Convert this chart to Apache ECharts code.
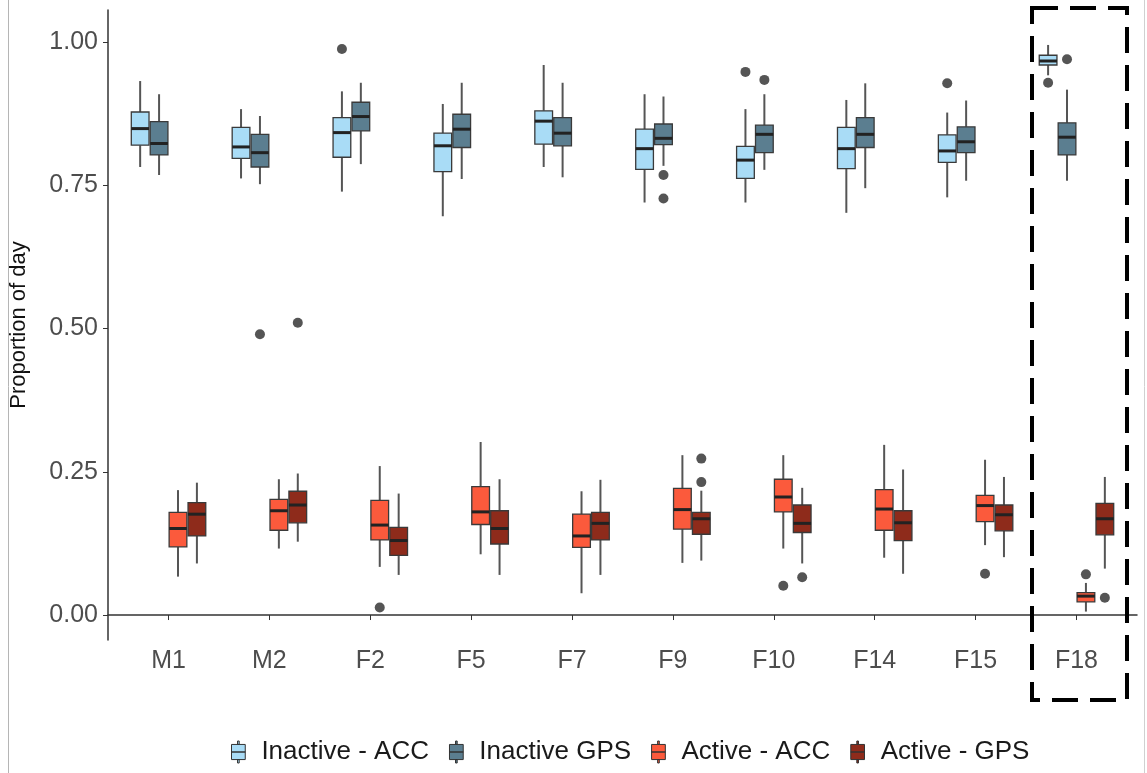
<!DOCTYPE html>
<html>
<head>
<meta charset="utf-8">
<script src="https://cdn.jsdelivr.net/npm/echarts@6/dist/echarts.min.js"></script>
<style>
  html, body { margin: 0; padding: 0; background: #fff; }
  #chart { width: 1147px; height: 773px; }
</style>
</head>
<body>
<div id="chart"></div>
<script>
var categories = ['M1', 'M2', 'F2', 'F5', 'F7', 'F9', 'F10', 'F14', 'F15', 'F18'];
var yTicks = [0, 0.25, 0.5, 0.75, 1];

// each row: [lower whisker, Q1, median, Q3, upper whisker]
var inactiveAcc = [
  [0.782, 0.820, 0.849, 0.878, 0.932],
  [0.762, 0.797, 0.817, 0.851, 0.883],
  [0.739, 0.799, 0.842, 0.868, 0.914],
  [0.696, 0.774, 0.819, 0.841, 0.892],
  [0.782, 0.822, 0.862, 0.880, 0.960],
  [0.720, 0.778, 0.814, 0.848, 0.909],
  [0.720, 0.762, 0.794, 0.818, 0.883],
  [0.702, 0.779, 0.814, 0.851, 0.899],
  [0.729, 0.790, 0.810, 0.838, 0.877],
  [0.942, 0.960, 0.967, 0.977, 0.995]
];
var inactiveGps = [
  [0.768, 0.803, 0.823, 0.861, 0.909],
  [0.752, 0.782, 0.807, 0.839, 0.871],
  [0.787, 0.845, 0.870, 0.895, 0.929],
  [0.761, 0.816, 0.848, 0.874, 0.929],
  [0.764, 0.819, 0.841, 0.868, 0.929],
  [0.784, 0.821, 0.832, 0.857, 0.905],
  [0.777, 0.807, 0.839, 0.855, 0.909],
  [0.745, 0.816, 0.839, 0.868, 0.928],
  [0.758, 0.807, 0.826, 0.852, 0.898],
  [0.758, 0.803, 0.834, 0.859, 0.917]
];
var activeAcc = [
  [0.067, 0.119, 0.151, 0.179, 0.218],
  [0.116, 0.148, 0.182, 0.202, 0.237],
  [0.084, 0.131, 0.157, 0.200, 0.260],
  [0.106, 0.158, 0.180, 0.224, 0.302],
  [0.038, 0.118, 0.138, 0.176, 0.216],
  [0.091, 0.150, 0.184, 0.221, 0.279],
  [0.116, 0.180, 0.206, 0.237, 0.279],
  [0.100, 0.148, 0.185, 0.219, 0.297],
  [0.122, 0.163, 0.191, 0.209, 0.271],
  [0.006, 0.023, 0.033, 0.039, 0.056]
];
var activeGps = [
  [0.090, 0.138, 0.176, 0.196, 0.231],
  [0.128, 0.161, 0.192, 0.216, 0.247],
  [0.070, 0.104, 0.130, 0.153, 0.212],
  [0.070, 0.124, 0.151, 0.182, 0.237],
  [0.070, 0.131, 0.160, 0.179, 0.236],
  [0.095, 0.141, 0.168, 0.179, 0.217],
  [0.090, 0.144, 0.160, 0.192, 0.222],
  [0.072, 0.130, 0.161, 0.182, 0.254],
  [0.101, 0.147, 0.175, 0.192, 0.241],
  [0.081, 0.140, 0.168, 0.195, 0.241]
];

// outliers: [category number (1-based), value]
var inactiveAccOut = [[3, 0.988], [7, 0.948], [9, 0.928], [10, 0.929]];
var inactiveGpsOut = [[2, 0.490], [6, 0.768], [6, 0.727], [7, 0.934], [10, 0.970]];
var activeAccOut = [[3, 0.013], [7, 0.051], [9, 0.072], [10, 0.071]];
var activeGpsOut = [[2, 0.510], [6, 0.273], [6, 0.232], [7, 0.066], [10, 0.030]];

var groupNames = ['Inactive - ACC', 'Inactive GPS', 'Active - ACC', 'Active - GPS'];
var groupColors = ['#a9dcf6', '#5b7e90', '#fb5a3c', '#8e2b1b'];
var groupRows = [inactiveAcc, inactiveGps, activeAcc, activeGps];
var groupOut = [inactiveAccOut, inactiveGpsOut, activeAccOut, activeGpsOut];

var dodge = 0.1875; // width of one dodged box in category units

// 箱线图（自定义绘制）
function boxSeries(idx) {
  var off = (idx - 1.5) * dodge;
  return {
    name: groupNames[idx],
    type: 'custom',
    itemStyle: { color: groupColors[idx] },
    encode: { x: 0, y: [1, 2, 3, 4, 5] },
    data: groupRows[idx].map(function (r, i) { return [i + 1].concat(r); }),
    z: 2,
    renderItem: function (params, api) {
      var x = api.value(0) + off;
      var half = api.size([dodge, 0])[0] / 2 - 0.6;
      var lo = api.coord([x, api.value(1)]);
      var q1 = api.coord([x, api.value(2)]);
      var md = api.coord([x, api.value(3)]);
      var q3 = api.coord([x, api.value(4)]);
      var hi = api.coord([x, api.value(5)]);
      var whisker = { stroke: '#555', lineWidth: 2 };
      return {
        type: 'group',
        children: [
          { type: 'line', shape: { x1: hi[0], y1: hi[1], x2: q3[0], y2: q3[1] }, style: whisker },
          { type: 'line', shape: { x1: q1[0], y1: q1[1], x2: lo[0], y2: lo[1] }, style: whisker },
          {
            type: 'rect',
            shape: { x: q3[0] - half, y: q3[1], width: half * 2, height: q1[1] - q3[1] },
            style: { fill: groupColors[idx], stroke: '#3a3a3a', lineWidth: 1.3 }
          },
          {
            type: 'line',
            shape: { x1: md[0] - half, y1: md[1], x2: md[0] + half, y2: md[1] },
            style: { stroke: '#222', lineWidth: 3 }
          }
        ]
      };
    }
  };
}

function outlierSeries(idx) {
  var off = (idx - 1.5) * dodge;
  return {
    name: groupNames[idx],
    type: 'scatter',
    symbolSize: 10,
    itemStyle: { color: '#2b2b2b' },
    data: groupOut[idx].map(function (p) { return [p[0] + off, p[1]]; }),
    z: 3
  };
}

var series = [];
for (var i = 0; i < 4; i++) series.push(boxSeries(i));
for (var j = 0; j < 4; j++) series.push(outlierSeries(j));

var legendIcon = 'path://M4.4,0L5.6,0L5.6,2.5L4.4,2.5Z M0,2.5L10,2.5L10,8L0,8Z M0,8L10,8L10,13.5L0,13.5Z M4.4,13.5L5.6,13.5L5.6,16L4.4,16Z';
var labelFont = 'Liberation Sans';

var chart = echarts.init(document.getElementById('chart'));
chart.setOption({
  animation: false,
  grid: { left: 107, right: 10, top: 10, bottom: 133 },
  xAxis: {
    type: 'value',
    min: 0.4,
    max: 10.6,
    splitLine: { show: false },
    axisLine: { show: true, lineStyle: { color: '#333', width: 1.5 } },
    axisTick: {
      show: true, length: 5, lineStyle: { color: '#333' },
      customValues: categories.map(function (c, i) { return i + 1; })
    },
    axisLabel: {
      fontSize: 25, color: '#4d4d4d', margin: 9, fontFamily: labelFont,
      customValues: categories.map(function (c, i) { return i + 1; }),
      formatter: function (v) { return categories[Math.round(v) - 1]; }
    }
  },
  yAxis: {
    type: 'value',
    min: -0.0436,
    max: 1.056,
    name: 'Proportion of day',
    nameLocation: 'middle',
    nameRotate: 90,
    nameGap: 78,
    nameTextStyle: { fontSize: 22, color: '#111', fontFamily: labelFont },
    splitLine: { show: false },
    axisLine: { show: true, lineStyle: { color: '#333', width: 1.5 } },
    axisTick: { show: true, length: 5, lineStyle: { color: '#333' }, customValues: yTicks },
    axisLabel: {
      fontSize: 25, color: '#4d4d4d', margin: 10, fontFamily: labelFont,
      customValues: yTicks,
      formatter: function (v) { return v.toFixed(2); }
    }
  },
  legend: {
    data: groupNames,
    left: 226,
    top: 734,
    icon: legendIcon,
    itemWidth: 14,
    itemHeight: 22,
    itemGap: 20,
    itemStyle: { borderColor: '#333', borderWidth: 1 },
    textStyle: { fontSize: 26, color: '#1a1a1a', fontFamily: labelFont, padding: [0, 0, 0, 11] }
  },
  graphic: [
    {
      type: 'rect',
      shape: { x: 1032, y: 8, width: 95, height: 692 },
      style: { fill: 'none', stroke: '#000', lineWidth: 4, lineDash: [26, 12] },
      z: 10
    },
    {
      type: 'line',
      shape: { x1: 8.5, y1: 0, x2: 8.5, y2: 773 },
      style: { stroke: '#b5b5b5', lineWidth: 1 }
    },
    {
      type: 'line',
      shape: { x1: 1144.5, y1: 0, x2: 1144.5, y2: 773 },
      style: { stroke: '#d0d0d0', lineWidth: 1 }
    }
  ],
  series: series
});
</script>
</body>
</html>
